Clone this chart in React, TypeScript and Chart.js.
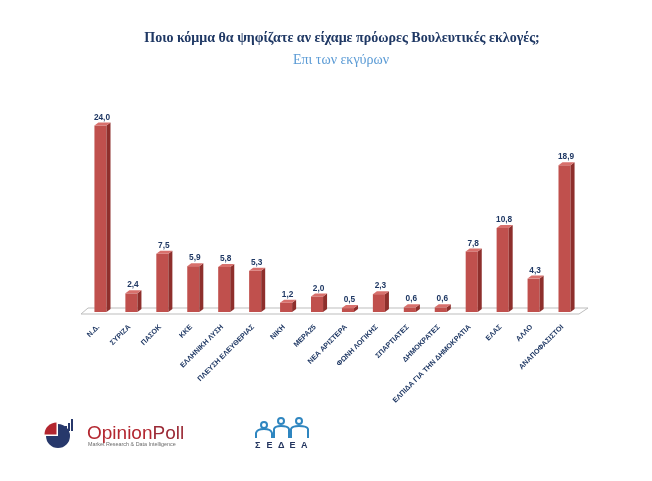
import React, { useEffect, useRef } from "react";
import { Chart, registerables } from "chart.js";

Chart.register(...registerables);

const categories = [
  "N.Δ.",
  "ΣΥΡΙΖΑ",
  "ΠΑΣΟΚ",
  "ΚΚΕ",
  "ΕΛΛΗΝΙΚΗ ΛΥΣΗ",
  "ΠΛΕΥΣΗ ΕΛΕΥΘΕΡΙΑΣ",
  "ΝΙΚΗ",
  "ΜΕΡΑ25",
  "ΝΕΑ ΑΡΙΣΤΕΡΑ",
  "ΦΩΝΗ ΛΟΓΙΚΗΣ",
  "ΣΠΑΡΤΙΑΤΕΣ",
  "ΔΗΜΟΚΡΑΤΕΣ",
  "ΕΛΠΙΔΑ ΓΙΑ ΤΗΝ ΔΗΜΟΚΡΑΤΙΑ",
  "ΕΛΑΣ",
  "ΑΛΛΟ",
  "ΑΝΑΠΟΦΑΣΙΣΤΟΙ",
];

const values = [24.0, 2.4, 7.5, 5.9, 5.8, 5.3, 1.2, 2.0, 0.5, 2.3, 0.6, 0.6, 7.8, 10.8, 4.3, 18.9];

const titleText = "Ποιο κόμμα θα ψηφίζατε αν είχαμε πρόωρες Βουλευτικές εκλογές;";
const subtitleText = "Επι των εκγύρων";

const NAVY = "#1f3864";
const FRONT = "#c0504d";
const SIDE = "#8e2f2c";
const TOP = "#d8706c";

const fmt = (v: number) => v.toFixed(1).replace(".", ",");

const decorPlugin = {
  id: "decor",
  beforeDatasetsDraw(chart: any) {
    const { ctx, chartArea } = chart;
    const l = chartArea.left, r = chartArea.right, b = chartArea.bottom;
    ctx.save();
    ctx.beginPath();
    ctx.moveTo(l - 4, b + 2);
    ctx.lineTo(r - 1, b + 2);
    ctx.lineTo(r + 8, b - 4);
    ctx.lineTo(l + 3, b - 4);
    ctx.closePath();
    ctx.fillStyle = "#ffffff";
    ctx.fill();
    ctx.strokeStyle = "#bdbdbd";
    ctx.lineWidth = 1;
    ctx.stroke();
    ctx.restore();
  },
  afterDatasetsDraw(chart: any) {
    const { ctx, chartArea } = chart;
    const meta = chart.getDatasetMeta(0);
    const dx = 4, dy = -3;
    ctx.save();
    meta.data.forEach((bar: any, i: number) => {
      const p = bar.getProps(["x", "y", "base", "width"], true);
      const x1 = p.x - p.width / 2;
      const x2 = p.x + p.width / 2;
      const top = p.y;
      const base = p.base;
      ctx.beginPath();
      ctx.moveTo(x2, top);
      ctx.lineTo(x2 + dx, top + dy);
      ctx.lineTo(x2 + dx, base + dy);
      ctx.lineTo(x2, base);
      ctx.closePath();
      ctx.fillStyle = SIDE;
      ctx.fill();
      ctx.beginPath();
      ctx.moveTo(x1, top);
      ctx.lineTo(x1 + dx, top + dy);
      ctx.lineTo(x2 + dx, top + dy);
      ctx.lineTo(x2, top);
      ctx.closePath();
      ctx.fillStyle = TOP;
      ctx.fill();
      ctx.fillStyle = NAVY;
      ctx.font = "bold 8.3px 'Liberation Sans', Arial, sans-serif";
      ctx.textAlign = "center";
      ctx.textBaseline = "bottom";
      ctx.fillText(fmt(values[i]), p.x + 1.5, top - 4);
      ctx.save();
      ctx.translate(p.x - 2, chartArea.bottom + 14);
      ctx.rotate(-Math.PI / 4);
      ctx.font = "bold 7.2px 'Liberation Sans', Arial, sans-serif";
      ctx.textAlign = "right";
      ctx.textBaseline = "middle";
      ctx.fillText(categories[i], 0, 0);
      ctx.restore();
    });
    ctx.restore();
  },
  afterDraw(chart: any) {
    const { ctx } = chart;
    ctx.save();
    ctx.textAlign = "center";
    ctx.textBaseline = "middle";
    ctx.fillStyle = NAVY;
    ctx.font = "bold 14px 'Liberation Serif', 'Times New Roman', serif";
    ctx.fillText(titleText, 342, 38);
    ctx.fillStyle = "#5b9bd5";
    ctx.font = "14px 'Liberation Serif', 'Times New Roman', serif";
    ctx.fillText(subtitleText, 341, 60);

    const cx = 58, cy = 436, rr = 12;
    ctx.beginPath();
    ctx.moveTo(cx, cy);
    ctx.arc(cx, cy, rr, -Math.PI / 2, Math.PI, false);
    ctx.closePath();
    ctx.fillStyle = "#27386b";
    ctx.fill();
    ctx.beginPath();
    ctx.moveTo(cx - 1.5, cy - 1.5);
    ctx.arc(cx - 1.5, cy - 1.5, rr, Math.PI, Math.PI * 1.5, false);
    ctx.closePath();
    ctx.fillStyle = "#b3262f";
    ctx.fill();
    ctx.fillStyle = "#27386b";
    ctx.fillRect(65, 426, 2, 5);
    ctx.fillRect(68, 423, 2, 8);
    ctx.fillRect(71, 419, 2, 12);

    ctx.textAlign = "left";
    ctx.textBaseline = "alphabetic";
    ctx.font = "19px 'Liberation Sans', Arial, sans-serif";
    ctx.fillStyle = "#b3262f";
    ctx.fillText("Opinion", 87, 439);
    const w = ctx.measureText("Opinion").width;
    ctx.fillStyle = "#9b2a36";
    ctx.fillText("Poll", 87 + w, 439);
    ctx.font = "5.4px 'Liberation Sans', Arial, sans-serif";
    ctx.fillStyle = "#6b6b6b";
    ctx.fillText("Market Research & Data Intelligence", 88, 446);

    ctx.strokeStyle = "#2f86c0";
    ctx.lineWidth = 2;
    const heads = [
      [264, 425],
      [281, 421],
      [299, 421],
    ];
    heads.forEach(([hx, hy]) => {
      ctx.beginPath();
      ctx.arc(hx, hy, 3, 0, Math.PI * 2);
      ctx.stroke();
    });
    ctx.beginPath();
    ctx.moveTo(256, 438);
    ctx.lineTo(256, 433);
    ctx.quadraticCurveTo(257, 429, 264, 429);
    ctx.quadraticCurveTo(271, 429, 272, 433);
    ctx.lineTo(272, 438);
    ctx.stroke();
    ctx.beginPath();
    ctx.moveTo(274, 438);
    ctx.lineTo(274, 429);
    ctx.quadraticCurveTo(275, 426, 281, 426);
    ctx.quadraticCurveTo(288, 426, 289, 429);
    ctx.lineTo(289, 438);
    ctx.stroke();
    ctx.beginPath();
    ctx.moveTo(291, 438);
    ctx.lineTo(291, 429);
    ctx.quadraticCurveTo(292, 426, 299, 426);
    ctx.quadraticCurveTo(307, 426, 308, 429);
    ctx.lineTo(308, 438);
    ctx.stroke();
    ctx.fillStyle = "#23355f";
    ctx.font = "bold 9px 'Liberation Sans', Arial, sans-serif";
    ctx.textAlign = "left";
    const letters = "ΣΕΔΕΑ";
    for (let k = 0; k < letters.length; k++) {
      ctx.fillText(letters[k], 255 + k * 11.5, 448);
    }
    ctx.restore();
  },
};

export default function App() {
  const ref = useRef<HTMLCanvasElement | null>(null);
  useEffect(() => {
    if (!ref.current) return;
    const chart = new Chart(ref.current, {
      type: "bar",
      data: {
        labels: categories,
        datasets: [
          {
            data: values,
            backgroundColor: FRONT,
            borderWidth: 0,
            barPercentage: 0.39,
            categoryPercentage: 1,
          },
        ],
      },
      options: {
        responsive: false,
        animation: false,
        layout: { padding: { left: 85, right: 72, top: 110, bottom: 169 } },
        scales: {
          x: { display: false },
          y: { display: false, min: 0, max: 26 },
        },
        plugins: {
          legend: { display: false },
          tooltip: { enabled: false },
          title: { display: false },
        },
      },
      plugins: [decorPlugin],
    });
    return () => chart.destroy();
  }, []);
  return (
    <div style={{ position: "fixed", left: 0, top: 0, width: 652, height: 481, background: "#fff" }}>
      <canvas ref={ref} width={652} height={481} style={{ display: "block", width: 652, height: 481 }} />
    </div>
  );
}
